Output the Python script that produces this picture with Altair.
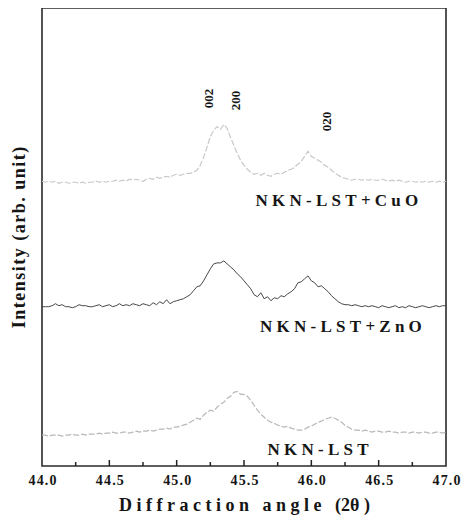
import altair as alt
import pandas as pd

# ---------------- data ----------------
x_start = 44.0
x_step = 0.025

# NKN-LST+CuO (top, light grey)
cuo = [286, 285, 286, 285, 286, 284, 285, 285, 284, 285,
       285, 284, 285, 284, 285, 285, 286, 285, 286, 285,
       286, 286, 287, 286, 287, 286, 288, 287, 288, 287,
       286, 288, 289, 288, 290, 289, 290, 291, 290, 292,
       293, 292, 293, 294, 294, 295, 297, 302, 310, 320,
       331, 337, 341, 338, 343, 339, 330, 322, 314, 307,
       302, 298, 295, 293, 294, 292, 294, 292, 291, 293,
       294, 293, 295, 297, 298, 300, 303, 306, 311, 316,
       311, 309, 307, 305, 302, 300, 297, 294, 292, 290,
       289, 288, 287, 288, 288, 287, 288, 287, 288, 287,
       287, 288, 287, 286, 287, 286, 287, 286, 285, 286,
       286, 285, 286, 285, 286, 285, 286, 285, 286, 285,
       286]

# NKN-LST+ZnO (middle, dark)
zno = [160, 160, 160, 161, 163, 161, 162, 160, 160, 159,
       160, 162, 161, 161, 160, 160, 161, 162, 160, 161,
       162, 160, 161, 163, 161, 162, 161, 163, 162, 161,
       163, 162, 161, 164, 162, 165, 163, 167, 163, 165,
       166, 167, 168, 170, 172, 176, 180, 181, 186, 192,
       198, 203, 204, 204, 206, 203, 200, 197, 193, 190,
       186, 182, 178, 172, 170, 174, 168, 170, 166, 169,
       168, 171, 170, 173, 175, 178, 184, 185, 188, 191,
       186, 184, 180, 181, 178, 175, 171, 168, 165, 163,
       162, 162, 161, 162, 161, 160, 161, 160, 161, 160,
       159, 161, 160, 159, 160, 161, 159, 160, 159, 161,
       160, 159, 160, 161, 160, 159, 160, 161, 160, 161,
       161]

# NKN-LST (bottom, light grey)
nkn = [31, 31, 30, 31, 31, 31, 30, 31, 31, 32,
       31, 31, 32, 31, 32, 32, 32, 33, 32, 33,
       33, 34, 33, 33, 34, 34, 33, 34, 35, 34,
       35, 35, 36, 35, 36, 37, 37, 38, 37, 39,
       39, 40, 41, 42, 44, 46, 48, 47, 51, 54,
       56, 55, 59, 62, 64, 68, 70, 74, 75, 72,
       72, 70, 66, 61, 56, 52, 49, 46, 44, 43,
       41, 40, 39, 40, 38, 37, 36, 36, 37, 39,
       40, 42, 44, 45, 47, 48, 49, 48, 46, 44,
       41, 39, 37, 36, 36, 35, 36, 35, 34, 35,
       35, 34, 34, 35, 34, 34, 33, 34, 34, 33,
       34, 34, 33, 34, 34, 33, 33, 34, 34, 33,
       34]

x_vals = [round(x_start + x_step * i, 3) for i in range(len(cuo))]

series_names = ["NKN-LST+CuO", "NKN-LST+ZnO", "NKN-LST"]
label_x = [46.19, 46.22, 46.05]
label_y = [266, 140, 16]

peak_names = ["002", "200", "020"]
peak_x = [45.24, 45.44, 46.12]
peak_y = [369, 367, 346]

major_ticks = [44.5, 45.0, 45.5, 46.0, 46.5]
minor_ticks = [44.25, 44.75, 45.25, 45.75, 46.25, 46.75]
tick_labels = [44.0, 44.5, 45.0, 45.5, 46.0, 46.5, 47.0]

# ---------------- helpers ----------------
NB = "\u00a0"
def spaced(s, sep=NB):
    return sep.join(s)

FONT = "Liberation Serif"
INK = "#151515"

xs = alt.X(
    "x:Q",
    scale=alt.Scale(domain=[44.0, 47.0], nice=False, zero=False),
    axis=alt.Axis(
        values=tick_labels,
        format=".1f",
        labelExpr="join(split(format(datum.value, '.1f'), ''), '\u200a')",
        ticks=False,
        domain=False,
        grid=False,
        labelPadding=7,
        labelFont=FONT,
        labelFontWeight="bold",
        labelFontSize=14,
        labelColor=INK,
        labelFlush=False,
        title=spaced("Diffraction") + NB * 3 + spaced("angle") + NB * 3 + "(2θ" + NB + ")",
        titleFont=FONT,
        titleFontWeight="bold",
        titleFontSize=18,
        titleColor=INK,
        titlePadding=9,
    ),
)
ys = alt.Y(
    "y:Q",
    scale=alt.Scale(domain=[0, 460], nice=False, zero=False),
    axis=alt.Axis(
        labels=False,
        ticks=False,
        domain=False,
        grid=False,
        title="\u200a".join("Intensity (arb. unit)"),
        titleFont=FONT,
        titleFontWeight="bold",
        titleFontSize=18,
        titleColor=INK,
        titlePadding=14,
    ),
)

def curve(vals, color, width, dash=None):
    d = pd.DataFrame({"x": x_vals, "y": vals})
    kw = dict(color=color, strokeWidth=width)
    if dash:
        kw["strokeDash"] = dash
    return alt.Chart(d).mark_line(**kw).encode(x=xs, y=ys)

l_cuo = curve(cuo, "#c8c8c8", 1.2, [6, 2])
l_zno = curve(zno, "#474747", 1.0)
l_nkn = curve(nkn, "#b8b8b8", 1.2, [6, 2])

lab_df = pd.DataFrame({"x": label_x, "y": label_y,
                       "t": [spaced(s) for s in series_names]})
labels = alt.Chart(lab_df).mark_text(
    font=FONT, fontWeight="bold", fontSize=17, color=INK,
    align="center", baseline="middle"
).encode(x=xs, y=ys, text="t:N")

pk_df = pd.DataFrame({"x": peak_x, "y": peak_y, "t": peak_names})
peaks = alt.Chart(pk_df).mark_text(
    font=FONT, fontWeight="bold", fontSize=13, color=INK,
    align="center", baseline="middle", angle=270
).encode(x=xs, y=ys, text="t:N")

maj = alt.Chart(pd.DataFrame({"x": major_ticks})).mark_rule(
    color="#222", strokeWidth=1.5
).encode(x=xs, y=alt.value(458), y2=alt.value(452))
mnr = alt.Chart(pd.DataFrame({"x": minor_ticks})).mark_rule(
    color="#222", strokeWidth=1.5
).encode(x=xs, y=alt.value(458), y2=alt.value(454))

chart = alt.layer(l_cuo, l_zno, l_nkn, labels, peaks, maj, mnr).properties(
    width=404,
    height=458,
    autosize=alt.AutoSizeParams(type="none"),
    padding={"left": 34, "top": 0, "right": 15, "bottom": 54},
    background="white",
).configure_view(
    stroke="#2a2a2a", strokeWidth=1.6
)

chart.save("out.html", embed_options={"renderer": "svg", "actions": False})
